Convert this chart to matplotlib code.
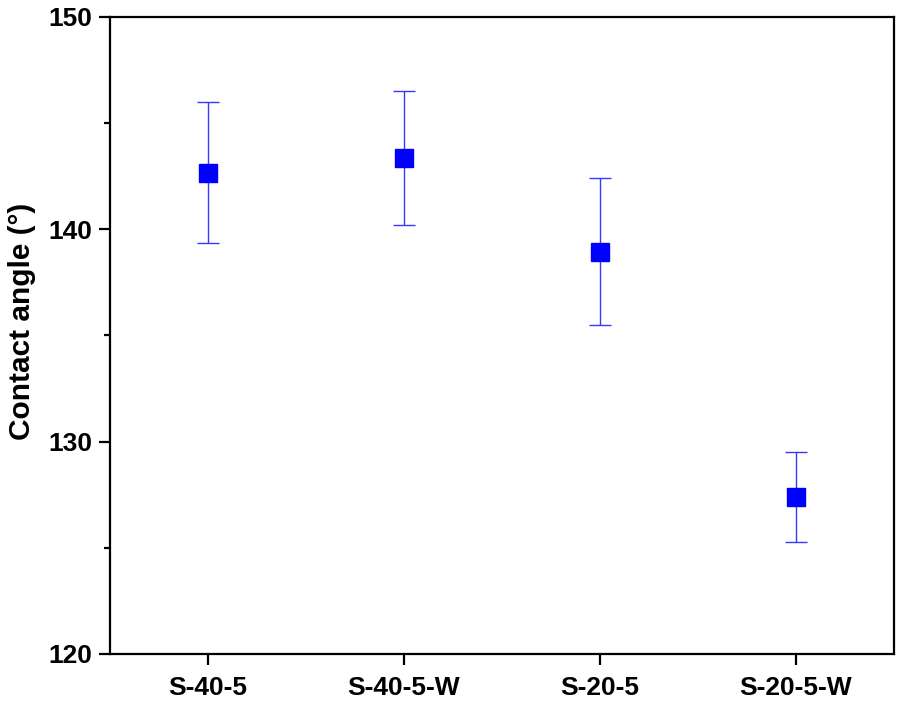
import matplotlib
matplotlib.use("Agg")
import matplotlib.pyplot as plt
from matplotlib.ticker import MultipleLocator

categories = ["S-40-5", "S-40-5-W", "S-20-5", "S-20-5-W"]
values = [142.67, 143.35, 138.95, 127.40]
errors = [3.33, 3.17, 3.48, 2.12]

plt.rcParams['font.family'] = ['Liberation Sans', 'DejaVu Sans']
plt.rcParams['font.weight'] = 'bold'

fig = plt.figure(figsize=(8.98, 7.07), dpi=100)
ax = fig.add_axes([0.1225, 0.075, 0.873, 0.901])

x = list(range(len(categories)))
ax.errorbar(x, values, yerr=errors, fmt='none', ecolor='#3838ff', elinewidth=1.0,
            capsize=8, capthick=1.0, zorder=2)
ax.plot(x, values, linestyle='none', marker='s', markersize=13.5,
        color='#0000ff', markeredgecolor='#0000ff', zorder=3)

ax.set_xlim(-0.5, 3.5)
ax.set_ylim(120, 150)
ax.set_xticks(x)
ax.set_xticklabels(categories)
ax.yaxis.set_major_locator(MultipleLocator(10))
ax.yaxis.set_minor_locator(MultipleLocator(5))
ax.set_ylabel("Contact angle (°)", fontsize=21.5, fontweight='bold')
ax.yaxis.set_label_coords(-0.095, 0.522)

for s in ax.spines.values():
    s.set_linewidth(1.6)
ax.tick_params(axis='both', which='major', direction='out', length=8, width=1.6,
               labelsize=19, pad=5)
ax.tick_params(axis='y', which='minor', direction='out', length=4.5, width=1.6)
ax.tick_params(axis='x', which='major', pad=8)
for lbl in ax.get_xticklabels() + ax.get_yticklabels():
    lbl.set_fontweight('bold')

fig.savefig("out.png", dpi=100)
